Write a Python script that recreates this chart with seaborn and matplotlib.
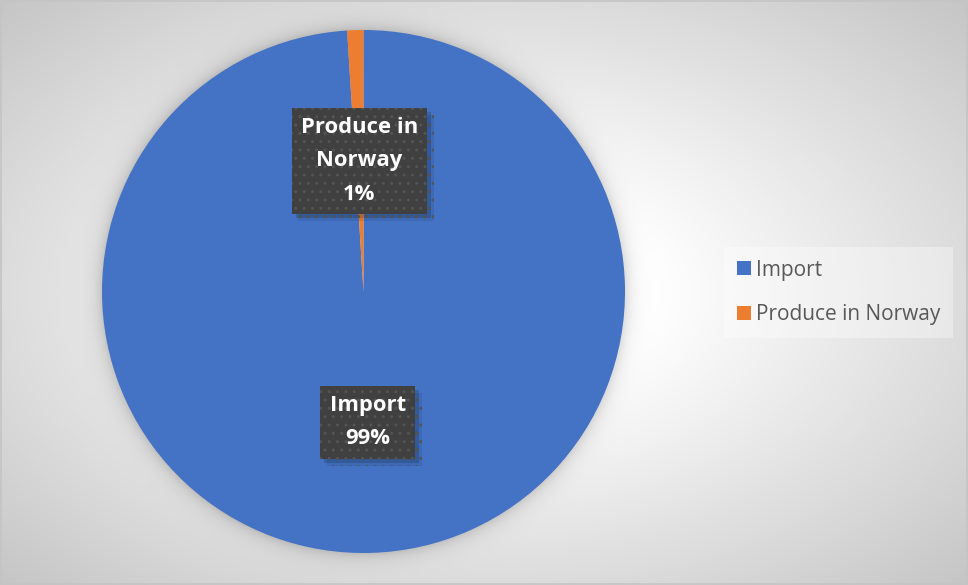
import numpy as np
import matplotlib
matplotlib.use("Agg")
import matplotlib.pyplot as plt
import matplotlib.patheffects as pe
from matplotlib.patches import Rectangle
import seaborn as sns

# Data
categories = ["Import", "Produce in Norway"]
shares = [99, 1]
slice_labels = ["Import\n99%", "Produce in\nNorway\n1%"]
slice_colors = ["#4472C4", "#ED7D31"]

sns.set_theme(style="white")
plt.rcParams["font.family"] = ["Open Sans", "DejaVu Sans"]

W, H = 968, 585
fig = plt.figure(figsize=(W / 100, H / 100), dpi=100)

# Radial grey-to-white background with a soft halo around the pie
pcx, pcy, R = 363.5, 291.5, 261.5
bg = fig.add_axes([0, 0, 1, 1], zorder=0)
yy, xx = np.mgrid[0:H, 0:W] + 0.5
r = np.sqrt(((xx - W / 2) / (W / 2)) ** 2 + ((yy - H / 2) / (H / 2)) ** 2) / np.sqrt(2)
shade = 255 - 58 * np.clip((r - 0.25) / 0.75, 0, 1)
dist = np.sqrt((xx - pcx) ** 2 + (yy - pcy) ** 2) - R
shade = shade - 35 * np.exp(-np.clip(dist, 0, None) / 8)
img = np.clip(shade, 0, 255) / 255
bg.imshow(np.dstack([img] * 3), extent=(0, W, H, 0), aspect="auto",
          interpolation="bilinear")
bg.add_patch(Rectangle((0.5, 0.5), W - 1.5, H - 1.5, fill=False,
                       edgecolor="#c4c4c4", lw=1.2))
bg.set_xlim(0, W)
bg.set_ylim(H, 0)
bg.set_axis_off()

# Pie
ax = fig.add_axes([(pcx - R) / W, (H - pcy - R) / H, 2 * R / W, 2 * R / H], zorder=1)
wedges, _ = ax.pie(shares, colors=slice_colors, startangle=90, counterclock=False,
                   radius=1, wedgeprops=dict(linewidth=0))
ax.set_xlim(-1, 1)
ax.set_ylim(-1, 1)
ax.set_axis_off()

# Data labels in dark boxes with a drop shadow
for w, txt in zip(wedges, slice_labels):
    ang = np.deg2rad((w.theta1 + w.theta2) / 2)
    t = ax.text(0.5 * np.cos(ang), 0.5 * np.sin(ang), txt, ha="center", va="center",
                color="white", fontsize=15.8, fontweight="bold", linespacing=1.78,
                bbox=dict(boxstyle="square,pad=0.42", facecolor="#404040",
                          edgecolor="#545454", linewidth=0, hatch=".."))
    t.get_bbox_patch().set_path_effects([
        pe.SimplePatchShadow(offset=(5, -5), shadow_rgbFace="black", alpha=0.08),
        pe.SimplePatchShadow(offset=(3, -3), shadow_rgbFace="black", alpha=0.15),
        pe.Normal(),
    ])

# Legend
leg = fig.legend(wedges, categories, loc="upper left",
                 bbox_to_anchor=(724 / W, 1 - 247 / H), frameon=True,
                 fontsize=15, handlelength=0.68, handleheight=0.68,
                 handletextpad=0.25, labelspacing=1.15, borderpad=0.6,
                 borderaxespad=0, fancybox=False, labelcolor="#595959")
frame = leg.get_frame()
frame.set_facecolor("white")
frame.set_alpha(0.35)
frame.set_edgecolor("none")

fig.savefig("out.png", dpi=100)
